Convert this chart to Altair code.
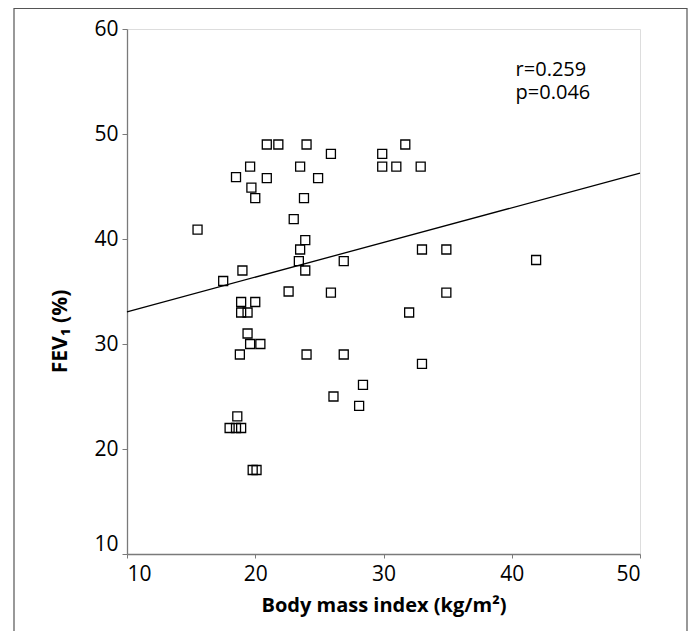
import altair as alt
import pandas as pd

# Scatter data: Body mass index (kg/m2) vs FEV1 (%)
bmi = [20.9, 21.8, 24.0, 19.6, 23.5, 18.5, 20.9, 24.9, 19.7, 20.0,
       23.8, 23.0, 15.5, 23.9, 23.5, 23.4, 19.0, 23.9, 17.5, 22.6,
       18.9, 20.0, 18.9, 19.4, 19.4, 19.6, 20.4, 18.8, 24.0, 18.6,
       18.0, 18.5, 18.9, 19.8, 20.1, 25.9, 29.9, 31.7, 29.9, 31.0,
       32.9, 26.9, 33.0, 34.9, 25.9, 34.9, 32.0, 26.9, 33.0, 28.4,
       26.1, 28.1, 41.9]
fev1 = [49.0, 49.0, 49.0, 46.9, 46.9, 45.9, 45.8, 45.8, 44.9, 43.9,
        43.9, 41.9, 40.9, 39.9, 39.0, 37.9, 37.0, 37.0, 36.0, 35.0,
        34.0, 34.0, 33.0, 33.0, 31.0, 30.0, 30.0, 29.0, 29.0, 23.1,
        22.0, 22.0, 22.0, 18.0, 18.0, 48.1, 48.1, 49.0, 46.9, 46.9,
        46.9, 37.9, 39.0, 39.0, 34.9, 34.9, 33.0, 29.0, 28.1, 26.1,
        25.0, 24.1, 38.0]

# Regression line end points
fit_x = [10, 50]
fit_y = [33.07, 46.27]

# Annotation (two lines in one text)
note_text = ["r=0.259\np=0.046"]
note_x = [40.3]
note_y = [55.52]

x_ticks = [10, 20, 30, 40, 50]
y_ticks = [10, 20, 30, 40, 50, 60]

FONT = "Open Sans"

pts = pd.DataFrame({"bmi": bmi, "fev1": fev1})
fit = pd.DataFrame({"bmi": fit_x, "fev1": fit_y})
notes = pd.DataFrame({"bmi": note_x, "fev1": note_y, "t": note_text})

xscale = alt.Scale(domain=[10, 50], nice=False, zero=False)
yscale = alt.Scale(domain=[10, 60], nice=False, zero=False)

xaxis = alt.Axis(
    values=x_ticks, title="Body mass index (kg/m²)", grid=False,
    domainColor="#7a7a7a", domainWidth=1.3, tickColor="#7a7a7a", tickSize=4,
    labelFontSize=21, labelFont=FONT, labelColor="black", labelPadding=5,
    titleFont=FONT, titleFontSize=20, titleFontWeight="bold", titleColor="black",
    titlePadding=11,
)
yaxis = alt.Axis(
    values=y_ticks, title="FEV₁ (%)", grid=False,
    domainColor="#7a7a7a", domainWidth=1.3, tickColor="#7a7a7a", tickSize=5,
    labelFontSize=21, labelFont=FONT, labelColor="black", labelPadding=4,
    labelBaseline=alt.condition("datum.value == 10", alt.value("bottom"), alt.value("middle")),
    titleFont=FONT, titleFontSize=21, titleFontWeight="bold", titleColor="black",
    titleAngle=-90, titleX=-67, titleY=302, titleAlign="center", titleBaseline="middle",
)

points = alt.Chart(pts).mark_point(
    shape="square", filled=False, color="black", size=81, strokeWidth=1.3, opacity=1
).encode(
    x=alt.X("bmi:Q", scale=xscale, axis=xaxis),
    y=alt.Y("fev1:Q", scale=yscale, axis=yaxis),
)

line = alt.Chart(fit).mark_line(color="black", strokeWidth=1.3).encode(
    x=alt.X("bmi:Q", scale=xscale),
    y=alt.Y("fev1:Q", scale=yscale),
)

text = alt.Chart(notes).mark_text(
    align="left", baseline="alphabetic", font=FONT, fontSize=20, color="black",
    lineBreak="\n", lineHeight=23.3
).encode(
    x=alt.X("bmi:Q", scale=xscale),
    y=alt.Y("fev1:Q", scale=yscale),
    text="t:N",
)

frame = alt.Chart(pd.DataFrame({"a": [0]})).mark_rect(
    fillOpacity=0, stroke="#555555", strokeWidth=1.2
).encode(
    x=alt.value(-113), x2=alt.value(560), y=alt.value(-20.5), y2=alt.value(700)
)

chart = alt.layer(frame, line, points, text).properties(
    width=513, height=525,
    autosize=alt.AutoSizeParams(type="none"),
    padding={"left": 119, "top": 21, "right": 48, "bottom": 77},
).configure_view(stroke="black", strokeWidth=1).configure(background="white")

chart.save("out.html", embed_options={"renderer": "svg", "actions": False})
